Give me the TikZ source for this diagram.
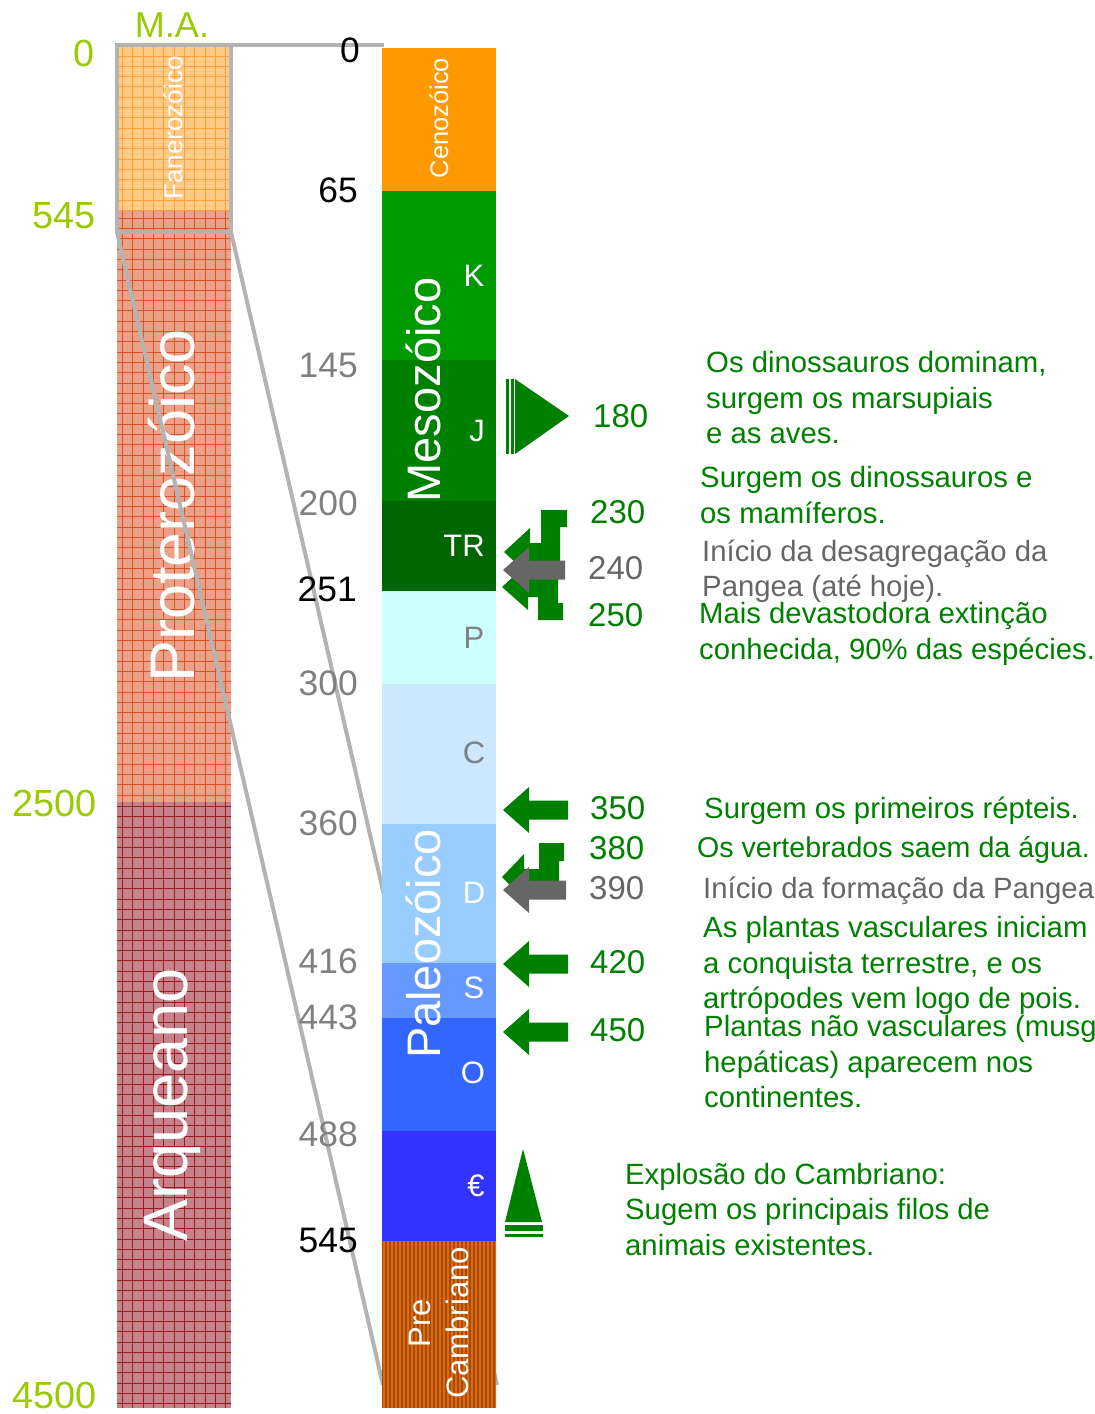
\documentclass[tikz,border=0pt]{standalone}
\usepackage{fontspec}
\setmainfont{Liberation Sans}
\usepackage{xcolor}
\usetikzlibrary{positioning}

\definecolor{cenoorange}{HTML}{FF9900}
\definecolor{kgreen}{HTML}{009900}
\definecolor{jgreen}{HTML}{008000}
\definecolor{trgreen}{HTML}{006600}
\definecolor{pcyan}{HTML}{CCFFFF}
\definecolor{cblue}{HTML}{CCE8FF}
\definecolor{dblue}{HTML}{99CCFF}
\definecolor{sblue}{HTML}{6699FF}
\definecolor{oblue}{HTML}{3366FF}
\definecolor{cambblue}{HTML}{3333FF}
\definecolor{prebrown}{HTML}{B04600}
\definecolor{prestripe}{HTML}{D2700F}
\definecolor{fanfill}{HTML}{FFCB85}
\definecolor{fangrid}{HTML}{FFA040}
\definecolor{protfill}{HTML}{EBA088}
\definecolor{protgrid}{HTML}{DA5228}
\definecolor{arqfill}{HTML}{C5828A}
\definecolor{arqgrid}{HTML}{991A1A}
\definecolor{malime}{HTML}{99CC00}
\definecolor{framegray}{HTML}{B3B3B3}
\definecolor{agegray}{HTML}{808080}
\definecolor{evgreen}{HTML}{008000}
\definecolor{evgray}{HTML}{666666}

% left-pointing event arrow: colour, tip y, tail x
\newcommand{\evleft}[3]{%
  \fill[#1] (503,#2) -- (529,#2-23) -- (529,#2-9.5) -- (#3,#2-9.5)
    -- (#3,#2+9.5) -- (529,#2+9.5) -- (529,#2+23) -- cycle;}

\begin{document}
\begin{tikzpicture}[
    x=1pt, y=-1pt,
    eon/.style={rectangle, minimum width=114pt, inner sep=0pt, outer sep=0pt,
      path picture={\draw[#1, line width=0.8pt, step=10.3pt]
        (path picture bounding box.south west) grid (path picture bounding box.north east);}},
    era/.style={rectangle, minimum width=114pt, inner sep=0pt, outer sep=0pt},
    eonlabel/.style={rotate=90, text=white, inner sep=0pt, font=\fontsize{63}{63}\selectfont},
    eralabel/.style={rotate=90, text=white, inner sep=0pt, font=\fontsize{47}{47}\selectfont},
    per/.style={text=white, inner sep=0pt, font=\fontsize{31}{31}\selectfont},
    age/.style={anchor=east, inner sep=0pt, text=agegray, font=\fontsize{35.4}{35.4}\selectfont},
    ma/.style={anchor=east, inner sep=0pt, text=malime, font=\fontsize{37.8}{37.8}\selectfont},
    evnum/.style={anchor=west, inner sep=0pt, text=evgreen, font=\fontsize{33}{33}\selectfont},
    desc/.style={anchor=north west, align=left, inner sep=0pt, text=evgreen,
      font=\fontsize{29.3}{35.5}\selectfont},
    link/.style={draw=framegray, line width=4pt}
]
\useasboundingbox (0,0) rectangle (1095,1414);

% Eon column
\node[eon=fangrid, fill=fanfill, minimum height=166pt, anchor=north west] (fan) at (117,45) {};
\node[eon=protgrid, fill=protfill, minimum height=591pt, below=0pt of fan] (prot) {};
\node[eon=arqgrid, fill=arqfill, minimum height=606pt, below=0pt of prot] (arq) {};

\node[eonlabel, font=\fontsize{26}{26}\selectfont] (fanlab) at (173,128) {Fanerozóico};
\node[eonlabel] (protlab) at (172,506) {Proterozóico};
\node[eonlabel] (arqlab) at (172,1105) {Arqueano};

\node[text=malime, inner sep=0pt, font=\fontsize{36}{36}\selectfont] (malab) at (172,25) {M.A.};
\node[ma] (ma0) at (95,53) {0};
\node[ma] (ma545) at (96,216) {545};
\node[ma] (ma2500) at (97,803) {2500};
\node[ma] (ma4500) at (97,1395) {4500};

% Zoom frame and links
\node[draw=framegray, line width=4pt, minimum width=114pt, minimum height=187pt,
  inner sep=0pt, outer sep=0pt, anchor=north west] (fanfr) at (117,45) {};
\coordinate (topr) at (384,45);
\coordinate (lowl) at (383,1385);
\coordinate (lowr) at (497,1385);
\draw[link] (fanfr.north east) -- (topr);
\draw[link] (fanfr.south west) -- (lowl);
\draw[link] (fanfr.south east) -- (lowr);

% Era column
\node[era, fill=cenoorange, minimum height=143pt, anchor=north west] (ceno) at (382,48) {};
\node[era, fill=kgreen, minimum height=169pt, below=0pt of ceno] (kret) {};
\node[era, fill=jgreen, minimum height=141pt, below=0pt of kret] (jura) {};
\node[era, fill=trgreen, minimum height=90pt, below=0pt of jura] (tria) {};
\node[era, fill=pcyan, minimum height=93pt, below=0pt of tria] (perm) {};
\node[era, fill=cblue, minimum height=140pt, below=0pt of perm] (carb) {};
\node[era, fill=dblue, minimum height=139pt, below=0pt of carb] (devo) {};
\node[era, fill=sblue, minimum height=55pt, below=0pt of devo] (silu) {};
\node[era, fill=oblue, minimum height=113pt, below=0pt of silu] (ordo) {};
\node[era, fill=cambblue, minimum height=110pt, below=0pt of ordo] (camb) {};
\node[era, fill=prebrown, minimum height=167pt, below=0pt of camb,
  path picture={\foreach \s in {2,6,...,114}
    \draw[prestripe, line width=1.2pt] ([xshift=\s pt]path picture bounding box.north west)
      -- ([xshift=\s pt]path picture bounding box.south west);}] (prec) {};

\node[eralabel, font=\fontsize{25.4}{25.4}\selectfont] (cenolab) at (439,118) {Cenozóico};
\node[eralabel] (mesolab) at (423,390) {Mesozóico};
\node[eralabel] (paleolab) at (423,944) {Paleozóico};
\node[eralabel, align=center, font=\fontsize{31}{38}\selectfont] (prelab) at (439,1323) {Pre\\Cambriano};

\node[per] (klab) at (474,276) {K};
\node[per] (jlab) at (477,431) {J};
\node[per] (trlab) at (464,546) {TR};
\node[per, text=agegray] (plab) at (474,638) {P};
\node[per, text=agegray] (clab) at (474,753) {C};
\node[per] (dlab) at (474,893) {D};
\node[per] (slab) at (474,988) {S};
\node[per] (olab) at (473,1073) {O};
\node[per] (camblab) at (476,1186) {€};

% Ages
\node[age, text=black] (a0) at (360,50) {0};
\node[age, text=black] (a65) at (358,190) {65};
\node[age] (a145) at (358,365) {145};
\node[age] (a200) at (358,503) {200};
\node[age, text=black] (a251) at (357,589) {251};
\node[age] (a300) at (358,683) {300};
\node[age] (a360) at (358,823) {360};
\node[age] (a416) at (358,961) {416};
\node[age] (a443) at (358,1017) {443};
\node[age] (a488) at (358,1134) {488};
\node[age, text=black] (a545) at (358,1240) {545};

% Event marks
\fill[evgreen] (515,379) -- (569,416) -- (515,454) -- cycle;
\fill[evgreen] (506,379) rectangle (508.5,454);
\fill[evgreen] (510.5,379) rectangle (514,454);

\fill[evgreen] (504,552) -- (530,528) -- (530,543) -- (541,543) -- (541,510) -- (567,510)
  -- (567,527) -- (560,527) -- (560,561) -- (530,561) -- (530,576) -- cycle;
\fill[evgreen] (502,587) -- (528,563) -- (528,578) -- (558,578) -- (558,603) -- (563,603)
  -- (563,620) -- (538,620) -- (538,597) -- (528,597) -- (528,610) -- cycle;
\evleft{evgray}{570}{565}

\evleft{evgreen}{810}{568}
\fill[evgreen] (502,877) -- (524,854) -- (524,869) -- (539,869) -- (539,843) -- (564,843)
  -- (564,861) -- (559,861) -- (559,886) -- (524,886) -- (524,900) -- cycle;
\evleft{evgray}{890}{566}
\evleft{evgreen}{964}{568}
\evleft{evgreen}{1032}{568}

\fill[evgreen] (523,1149) -- (542,1222) -- (505,1222) -- cycle;
\fill[evgreen] (505,1225) rectangle (543,1231);
\fill[evgreen] (505,1234) rectangle (543,1237);

% Event numbers
\node[evnum] (n180) at (593,416) {180};
\node[evnum] (n230) at (590,512) {230};
\node[evnum, text=evgray] (n240) at (588,568) {240};
\node[evnum] (n250) at (588,615) {250};
\node[evnum] (n350) at (590,808) {350};
\node[evnum] (n380) at (589,848) {380};
\node[evnum, text=evgray] (n390) at (589,888) {390};
\node[evnum] (n420) at (590,962) {420};
\node[evnum] (n450) at (590,1030) {450};

% Event texts
\node[desc] (d180) at (706,351.5) {Os dinossauros dominam,\\surgem os marsupiais\\e as aves.};
\node[desc] (d230) at (700,466.5) {Surgem os dinossauros e\\os mamíferos.};
\node[desc, text=evgray] (d240) at (702,539.5) {Início da desagregação da\\Pangea (até hoje).};
\node[desc] (d250) at (699,602.5) {Mais devastodora extinção\\conhecida, 90\% das espécies.};
\node[desc] (d350) at (704,796.5) {Surgem os primeiros répteis.};
\node[desc, font=\fontsize{28.6}{35.5}\selectfont] (d380) at (697,836) {Os vertebrados saem da água.};
\node[desc, text=evgray] (d390) at (703,876.5) {Início da formação da Pangea};
\node[desc] (d420) at (703,916.5) {As plantas vasculares iniciam\\a conquista terrestre, e os\\artrópodes vem logo de pois.};
\node[desc] (d450) at (704,1015.5) {Plantas não vasculares (musg\\hepáticas) aparecem nos\\continentes.};
\node[desc] (dcamb) at (625,1163) {Explosão do Cambriano:\\Sugem os principais filos de\\animais existentes.};

\end{tikzpicture}
\end{document}
